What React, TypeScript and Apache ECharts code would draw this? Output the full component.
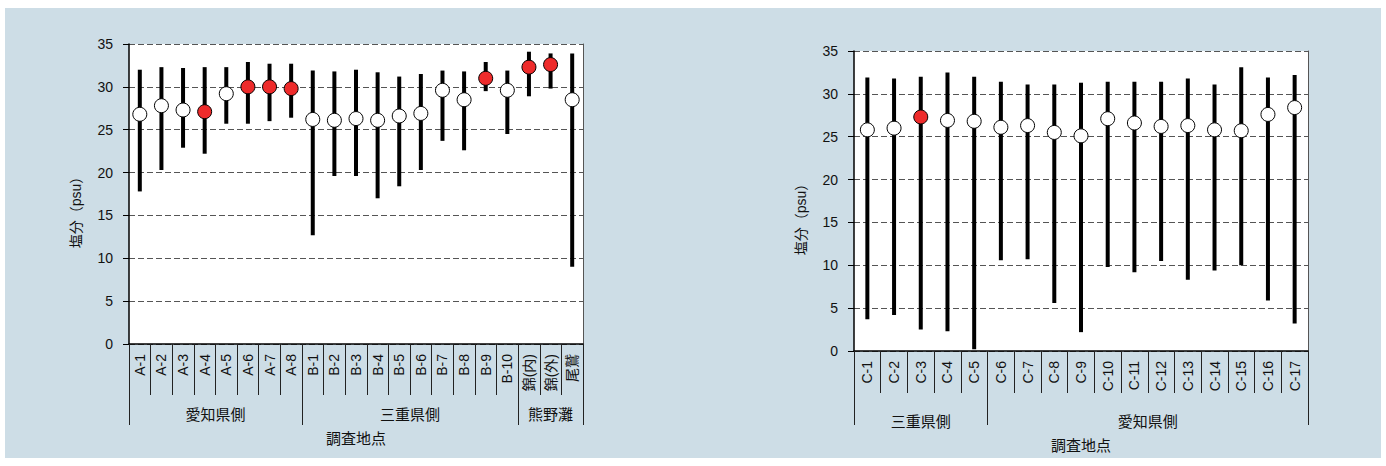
import React, { useEffect, useRef } from "react";
import * as echarts from "echarts";

// ---- Data ----
const leftCats = ["A-1", "A-2", "A-3", "A-4", "A-5", "A-6", "A-7", "A-8", "B-1", "B-2", "B-3", "B-4", "B-5", "B-6", "B-7", "B-8", "B-9", "B-10", "錦(内)", "錦(外)", "尾鷲"];
const leftMean = [26.8, 27.8, 27.3, 27.1, 29.2, 30.0, 30.0, 29.8, 26.2, 26.1, 26.3, 26.1, 26.6, 26.9, 29.6, 28.5, 31.0, 29.6, 32.3, 32.6, 28.5];
const leftMax = [32.0, 32.3, 32.2, 32.3, 32.3, 32.9, 32.7, 32.7, 31.9, 31.8, 32.0, 31.7, 31.2, 31.5, 31.9, 31.8, 32.9, 31.9, 34.1, 33.9, 33.9];
const leftMin = [17.8, 20.3, 22.9, 22.2, 25.7, 25.7, 26.0, 26.4, 12.7, 19.6, 19.6, 17.0, 18.4, 20.3, 23.7, 22.6, 29.5, 24.5, 28.9, 29.8, 9.0];
const leftHighlight = [0, 0, 0, 1, 0, 1, 1, 1, 0, 0, 0, 0, 0, 0, 0, 0, 1, 0, 1, 1, 0];
const leftGroups = ["愛知県側", "三重県側", "熊野灘"];
const leftGroupSizes = [8, 10, 3];

const rightCats = ["C-1", "C-2", "C-3", "C-4", "C-5", "C-6", "C-7", "C-8", "C-9", "C-10", "C-11", "C-12", "C-13", "C-14", "C-15", "C-16", "C-17"];
const rightMean = [25.8, 26.0, 27.3, 26.9, 26.8, 26.1, 26.3, 25.5, 25.1, 27.1, 26.6, 26.2, 26.3, 25.8, 25.7, 27.6, 28.4];
const rightMax = [31.9, 31.8, 32.0, 32.5, 32.0, 31.4, 31.1, 31.1, 31.3, 31.4, 31.4, 31.4, 31.8, 31.1, 33.1, 31.9, 32.2];
const rightMin = [3.7, 4.2, 2.5, 2.3, 0.2, 10.6, 10.7, 5.6, 2.2, 9.8, 9.2, 10.5, 8.3, 9.4, 10.0, 5.9, 3.2];
const rightHighlight = [0, 0, 1, 0, 0, 0, 0, 0, 0, 0, 0, 0, 0, 0, 0, 0, 0];
const rightGroups = ["三重県側", "愛知県側"];
const rightGroupSizes = [5, 12];

const yTicks = [0, 5, 10, 15, 20, 25, 30, 35];
const yName = "塩分（psu）";
const xName = "調査地点";

const FONT = "'Liberation Sans', Arial, 'Noto Sans CJK JP', sans-serif";
const RED = "#ee2b2b";

function groupBounds(sizes: number[]) {
  const b = [0];
  sizes.forEach((s) => b.push(b[b.length - 1] + s));
  return b;
}
function groupCenters(sizes: number[]) {
  const b = groupBounds(sizes);
  return sizes.map((_, i) => (b[i] + b[i + 1]) / 2);
}

function buildPanel(
  idx: number,
  cats: string[],
  mean: number[],
  max: number[],
  min: number[],
  hl: number[],
  groups: string[],
  sizes: number[],
  catTickLen: number,
  groupTickLen: number
) {
  const centers = groupCenters(sizes);
  const xAxes = [
    {
      type: "category",
      gridIndex: idx,
      data: cats,
      boundaryGap: true,
      axisLine: { show: true, lineStyle: { color: "#000", width: 1.5 } },
      axisTick: { show: true, interval: 0, length: catTickLen, lineStyle: { color: "#222", width: 1 } },
      axisLabel: { interval: 0, rotate: 90, margin: 10, fontSize: 14, color: "#111", fontFamily: FONT },
      splitLine: { show: false },
    },
    {
      type: "value",
      gridIndex: idx,
      position: "bottom",
      min: 0,
      max: cats.length,
      axisLine: { show: false },
      splitLine: { show: false },
      axisTick: {
        show: true,
        customValues: groupBounds(sizes),
        length: groupTickLen,
        lineStyle: { color: "#222", width: 1 },
      },
      axisLabel: {
        show: true,
        customValues: centers,
        margin: 63,
        fontSize: 15,
        color: "#111",
        fontFamily: FONT,
        formatter: (v: number) => {
          const i = centers.findIndex((c) => Math.abs(c - v) < 1e-6);
          return i >= 0 ? groups[i] : "";
        },
      },
      name: xName,
      nameLocation: "middle",
      nameGap: 87,
      nameTextStyle: { fontSize: 15, color: "#111", fontFamily: FONT },
    },
  ];
  const yAxes = [
    {
      type: "value",
      gridIndex: idx,
      min: yTicks[0],
      max: yTicks[yTicks.length - 1],
      interval: 5,
      axisLine: { show: true, lineStyle: { color: "#000", width: 1.5 } },
      axisTick: { show: true, length: 6, lineStyle: { color: "#000" } },
      axisLabel: { margin: 16, fontSize: 14, color: "#111", fontFamily: FONT },
      splitLine: { show: true, lineStyle: { color: "#555", width: 1, type: [6, 3] } },
      name: yName,
      nameLocation: "middle",
      nameGap: 46,
      nameRotate: 90,
      nameTextStyle: { fontSize: 14, color: "#111", fontFamily: FONT, padding: [0, 0, 0, -30] },
    },
    {
      type: "value",
      gridIndex: idx,
      position: "right",
      min: yTicks[0],
      max: yTicks[yTicks.length - 1],
      interval: 5,
      axisLine: { show: true, lineStyle: { color: "#555", width: 1 } },
      axisTick: { show: false },
      axisLabel: { show: false },
      splitLine: { show: false },
    },
  ];
  const series = [
    {
      type: "custom",
      xAxisIndex: idx * 2,
      yAxisIndex: idx * 2,
      data: cats.map((_, i) => [i, min[i], max[i]]),
      renderItem: (params: any, api: any) => {
        const x = api.value(0);
        const lo = api.coord([x, api.value(1)]);
        const hi = api.coord([x, api.value(2)]);
        return {
          type: "line",
          shape: { x1: lo[0], y1: lo[1], x2: hi[0], y2: hi[1] },
          style: { stroke: "#000", lineWidth: 4 },
        };
      },
      z: 2,
    },
    {
      type: "scatter",
      xAxisIndex: idx * 2,
      yAxisIndex: idx * 2,
      symbol: "circle",
      symbolSize: 14,
      emphasis: { disabled: true },
      data: cats.map((_, i) => ({
        value: [i, mean[i]],
        itemStyle: { color: hl[i] ? RED : "#fff", borderColor: "#000", borderWidth: 1, opacity: 1 },
      })),
      z: 3,
    },
  ];
  return { xAxes, yAxes, series };
}

export default function App() {
  const ref = useRef<HTMLDivElement>(null);
  useEffect(() => {
    if (!ref.current) return;
    const chart = echarts.init(ref.current, undefined, { renderer: "svg" });
    const L = buildPanel(0, leftCats, leftMean, leftMax, leftMin, leftHighlight, leftGroups, leftGroupSizes, 51, 81);
    const R = buildPanel(1, rightCats, rightMean, rightMax, rightMin, rightHighlight, rightGroups, rightGroupSizes, 42, 74);
    chart.setOption({
      animation: false,
      backgroundColor: "transparent",
      textStyle: { fontFamily: FONT },
      grid: [
        { left: 129, top: 44, width: 454, height: 300, show: true, backgroundColor: "#fff", borderWidth: 0 },
        { left: 854, top: 51, width: 454, height: 300, show: true, backgroundColor: "#fff", borderWidth: 0 },
      ],
      xAxis: [...L.xAxes, ...R.xAxes],
      yAxis: [...L.yAxes, ...R.yAxes],
      series: [...L.series, ...R.series],
    });
    return () => chart.dispose();
  }, []);
  return (
    <div style={{ position: "fixed", left: 0, top: 0, width: 1386, height: 466, background: "#fff" }}>
      <div style={{ position: "absolute", left: 5, top: 8, width: 1376, height: 450, background: "#cddde6" }} />
      <div ref={ref} style={{ position: "absolute", left: 0, top: 0, width: 1386, height: 466 }} />
    </div>
  );
}
